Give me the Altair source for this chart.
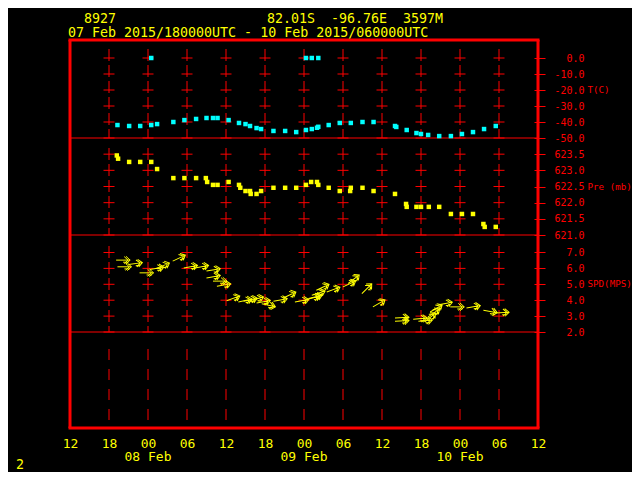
import altair as alt
import pandas as pd

# ---------------- data (time = hours after 07 Feb 2015 12 UTC) ----------------
T_HOURS = [7.3, 9.1, 10.8, 12.5, 12.5, 13.4, 15.9, 17.6, 19.4, 21.0, 22.0, 22.7, 24.4, 26.0,
           27.0, 27.7, 28.7, 29.4, 31.3, 33.1, 34.8, 36.3, 36.3, 37.2, 37.2, 38.0, 38.2, 38.2,
           39.8, 41.5, 43.2, 45.0, 46.7, 50.0, 50.2, 51.8, 53.3, 54.0, 55.1, 56.8, 58.6, 60.3,
           62.0, 63.7, 65.5]
T_VALUES = [-41.9, -42.5, -42.5, -41.9, 0.0, -41.3, -40.0, -38.8, -38.1, -37.5, -37.5, -37.5,
            -38.8, -40.6, -41.3, -42.5, -43.8, -44.4, -45.6, -45.6, -46.3, -45.0, 0.0, -44.4,
            0.0, -43.6, -43.0, 0.0, -41.9, -40.6, -40.6, -40.0, -40.0, -42.5, -43.1, -45.0,
            -46.9, -47.5, -48.1, -48.8, -48.8, -47.5, -46.3, -44.4, -42.5]

P_HOURS = [7.2, 7.4, 9.1, 10.8, 12.5, 13.4, 15.9, 17.6, 19.4, 20.9, 21.1, 22.0, 22.7, 24.4,
           26.0, 26.2, 27.0, 27.7, 27.8, 28.7, 29.4, 31.3, 33.1, 34.8, 36.3, 37.1, 38.0, 38.2,
           39.8, 41.5, 43.1, 43.2, 45.0, 46.7, 50.0, 51.7, 51.8, 53.3, 54.0, 55.2, 56.8, 58.6,
           60.3, 62.0, 63.6, 63.8, 65.5]
P_VALUES = [623.46, 623.36, 623.26, 623.26, 623.26, 623.04, 622.76, 622.76, 622.76, 622.76,
            622.64, 622.55, 622.55, 622.64, 622.55, 622.46, 622.36, 622.36, 622.27, 622.27,
            622.36, 622.46, 622.46, 622.46, 622.55, 622.64, 622.64, 622.55, 622.46, 622.36,
            622.36, 622.46, 622.46, 622.36, 622.27, 621.96, 621.87, 621.87, 621.87, 621.87,
            621.87, 621.65, 621.65, 621.65, 621.34, 621.25, 621.25]

W_HOURS = [7.1, 7.3, 9.0, 10.7, 12.3, 13.3, 15.8, 17.5, 19.2, 21.0, 21.0, 22.0, 22.6, 24.1,
           25.9, 26.7, 27.7, 28.7, 29.5, 31.3, 32.8, 34.6, 36.4, 36.7, 37.2, 37.9, 39.5, 42.0,
           42.8, 44.9, 46.6, 50.0, 50.0, 52.8, 53.6, 54.6, 55.1, 55.4, 56.7, 58.5, 61.0, 63.6,
           65.4]
W_SPEED = [6.52, 6.10, 6.24, 5.72, 5.93, 6.00, 6.46, 6.03, 6.03, 5.83, 5.40, 5.20, 4.88, 3.97,
           3.89, 3.94, 3.97, 3.83, 3.77, 3.94, 4.14, 3.89, 4.04, 4.10, 4.31, 4.63, 4.52, 4.84,
           5.05, 4.41, 3.58, 2.67, 2.88, 2.80, 2.67, 2.63, 2.95, 3.26, 3.72, 3.58, 3.51, 3.37,
           3.20]
# arrow direction, degrees counter-clockwise from east
W_DIR = [0, 0, 8, 0, 10, 22, 25, 10, 10, 10, 10, 0, 10, 20, 12, 12, 15, 10, -12, 10, 25, 10,
         15, 14, 18, 25, 20, 25, 38, 45, 30, 3, 3, 5, 5, 40, 35, 30, 10, 0, 10, -10, 3]

GRID_HOURS = [6, 12, 18, 24, 30, 36, 42, 48, 54, 60, 66]
X_TICKS = [0, 6, 12, 18, 24, 30, 36, 42, 48, 54, 60, 66, 72]
T_TICKS = [0.0, -10.0, -20.0, -30.0, -40.0, -50.0]
P_TICKS = [623.5, 623.0, 622.5, 622.0, 621.5, 621.0]
S_TICKS = [7.0, 6.0, 5.0, 4.0, 3.0, 2.0]
DAY_HOURS = [12, 36, 60]
DAY_LABELS = ["08 Feb", "09 Feb", "10 Feb"]
HEADER_ID = "8927"
HEADER_POS = "82.01S\u00a0\u00a0-96.76E\u00a0\u00a03597M"
HEADER_RANGE = "07 Feb 2015/180000UTC - 10 Feb 2015/060000UTC"
PAGE_NO = "2"

# ---------------- styling ----------------
RED = "#ff0000"
YEL = "#ffff00"
CYAN = "#00ffff"
MONO = "DejaVu Sans Mono"
W, H = 468, 388
ARROW = ("M0,0L2,0M1.4,-0.55L2,0L1.4,0.55M1.15,-0.5L1.7,0L1.15,0.5"
         "M1.0,0.3L1.75,0.3")

x_scale = alt.Scale(domain=[0, 72], nice=False, zero=False)
x_axis = alt.Axis(values=X_TICKS, labelExpr="format((datum.value + 12) % 24, '02d')",
                  labelColor=YEL, labelFont=MONO, labelFontSize=13, labelPadding=15,
                  labelBaseline="middle", labelFlush=False, labelOverlap=False,
                  ticks=False, tickSize=0, domain=False, grid=False, title=None)
X = alt.X("h:Q", scale=x_scale, axis=x_axis)

t_scale = alt.Scale(domain=[-50, 11.25], range=[98, 0], nice=False, zero=False)
p_scale = alt.Scale(domain=[621, 624], range=[195, 98], nice=False, zero=False)
s_scale = alt.Scale(domain=[2, 8.1], range=[292, 195], nice=False, zero=False)


def y_axis(ticks, title, title_y):
    return alt.Axis(orient="right", values=ticks,
                    labelExpr="(datum.value < 0 ? '-' : '') + format(abs(datum.value), '.1f')",
                    labelColor=RED, labelFont=MONO, labelFontSize=10, labelAlign="right",
                    labelBaseline="middle", labelPadding=39, labelFlush=False,
                    labelOverlap=False, tickColor=RED, tickSize=11, tickWidth=1,
                    domain=False, grid=False, offset=-4, title=title, titleColor=RED,
                    titleFont=MONO, titleFontSize=9.2, titleFontWeight="normal",
                    titleAngle=0, titleAlign="left", titleBaseline="middle",
                    titleX=53, titleY=title_y)


one = pd.DataFrame({"k": [0]})
grid_df = pd.DataFrame({"h": GRID_HOURS})


def hrule(y, width=1, x0=0, x1=W):
    return alt.Chart(one).mark_rule(color=RED, strokeWidth=width).encode(
        x=alt.value(x0), x2=alt.value(x1), y=alt.value(y))


def vrule(x, width=3):
    return alt.Chart(one).mark_rule(color=RED, strokeWidth=width).encode(
        x=alt.value(x), y=alt.value(0), y2=alt.value(H))


def vdash(y0, y1, dash):
    return alt.Chart(grid_df).mark_rule(color=RED, strokeWidth=1, strokeDash=dash).encode(
        x=X, y=alt.value(y0), y2=alt.value(y1))


def crosses(ticks, field, scale, axis):
    df = pd.DataFrame([(h, v) for h in GRID_HOURS for v in ticks], columns=["h", field])
    return alt.Chart(df).mark_tick(orient="horizontal", size=11, thickness=1, color=RED,
                                   opacity=1).encode(
        x=X, y=alt.Y(f"{field}:Q", scale=scale, axis=axis))


t_axis = y_axis(T_TICKS, "T(C)", 49)
p_axis = y_axis(P_TICKS, "Pre (mb)", 146.5)
s_axis = y_axis(S_TICKS, "SPD(MPS)", 243.5)

t_df = pd.DataFrame({"h": T_HOURS, "T": T_VALUES})
p_df = pd.DataFrame({"h": P_HOURS, "P": P_VALUES})
w_df = pd.DataFrame({"h": W_HOURS, "S": W_SPEED, "d": W_DIR})
w_df["ang"] = (360 - w_df["d"]) % 360

t_panel = alt.layer(
    crosses(T_TICKS, "T", t_scale, t_axis),
    alt.Chart(t_df).mark_square(size=20, color=CYAN, opacity=1).encode(
        x=X, y=alt.Y("T:Q", scale=t_scale, axis=t_axis)),
)
p_panel = alt.layer(
    crosses(P_TICKS, "P", p_scale, p_axis),
    alt.Chart(p_df).mark_square(size=20, color=YEL, opacity=1).encode(
        x=X, y=alt.Y("P:Q", scale=p_scale, axis=p_axis)),
)
s_panel = alt.layer(
    crosses(S_TICKS, "S", s_scale, s_axis),
    alt.Chart(w_df).mark_point(shape=ARROW, size=196, filled=False, color=YEL,
                               strokeWidth=1, opacity=1).encode(
        x=X, y=alt.Y("S:Q", scale=s_scale, axis=s_axis),
        angle=alt.Angle("ang:Q", scale=None)),
)

day_df = pd.DataFrame({"h": DAY_HOURS, "d": DAY_LABELS})
days = alt.Chart(day_df).mark_text(color=YEL, font=MONO, fontSize=13, baseline="middle",
                                   align="center").encode(x=X, y=alt.value(417), text="d:N")


def label(txt, x, y):
    return alt.Chart(pd.DataFrame({"t": [txt]})).mark_text(
        color=YEL, font=MONO, fontSize=13.3, align="left", baseline="middle").encode(
        x=alt.value(x), y=alt.value(y), text="t:N")


chart = alt.layer(
    vdash(9, 98, [12, 4]),
    vdash(108, 195, [12, 4]),
    vdash(206, 292, [12, 4]),
    vdash(309, 387, [11, 9]),
    hrule(98), hrule(195), hrule(292),
    vrule(0), vrule(W), hrule(0, 3, -1.5, W + 1.5), hrule(H, 3, -1.5, W + 1.5),
    t_panel, p_panel, s_panel,
    days,
    label(HEADER_ID, 14, -21),
    label(HEADER_POS, 197, -21),
    label(HEADER_RANGE, -2, -7),
    label(PAGE_NO, -54, 425),
).resolve_scale(y="independent").resolve_axis(y="independent").properties(
    width=W, height=H,
    autosize=alt.AutoSizeParams(type="none"),
    padding={"left": 62, "top": 32, "right": 94, "bottom": 44},
    background="black",
).configure_view(strokeWidth=0)

chart.save("out.html", embed_options={"renderer": "svg", "actions": False})
